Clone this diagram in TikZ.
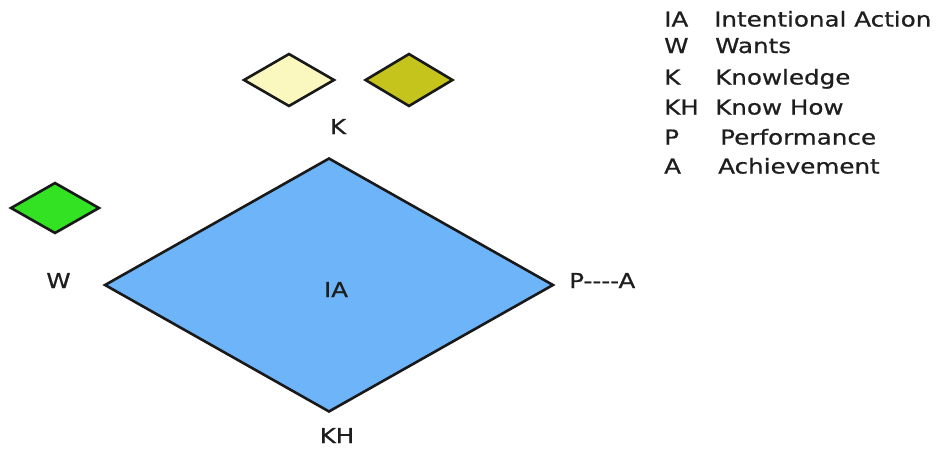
\documentclass[tikz,border=0pt]{standalone}
\usepackage{fontspec}
\setmainfont{DejaVu Sans}[FakeStretch=1.2,FakeBold=0.7]
\usetikzlibrary{shapes.geometric}
\definecolor{iablue}{RGB}{110,180,248}
\definecolor{kyellow}{RGB}{250,248,190}
\definecolor{kolive}{RGB}{196,196,28}
\definecolor{wgreen}{RGB}{52,226,36}
\definecolor{txt}{RGB}{30,30,30}
\tikzset{
  dia/.style={diamond, draw=black!90, line width=2.6pt, inner sep=0pt, line join=miter},
  lbl/.style={inner sep=0pt, text=txt, font=\fontsize{20.5}{24}\selectfont},
}
\begin{document}
\begin{tikzpicture}[x=1pt,y=-1pt]
\useasboundingbox (0,0) rectangle (946,450);
% main diamond
\node[dia, fill=iablue, minimum width=449pt, minimum height=254pt] (ia) at (329,285) {};
% small diamonds
\node[dia, fill=kyellow, minimum width=91pt, minimum height=53pt] (ky) at (289,80) {};
\node[dia, fill=kolive, minimum width=88pt, minimum height=53pt] (ko) at (409,80) {};
\node[dia, fill=wgreen, minimum width=89pt, minimum height=51pt] (wg) at (55,208) {};
% diagram labels
\node[lbl, anchor=base] (lK) at (338,134) {K};
\node[lbl, anchor=base] (lW) at (58.5,288) {W};
\node[lbl, anchor=base] (lIA) at (336,297) {IA};
\node[lbl, anchor=base west] (lPA) at (569,288) {P{-}{-}{-}{-}A};
\node[lbl, anchor=base] (lKH) at (337,443) {KH};
% legend
\node[lbl, anchor=base west] (a1) at (664,26.5) {IA};
\node[lbl, anchor=base west] (d1) at (714,26.5) {Intentional Action};
\node[lbl, anchor=base west] (a2) at (664,53) {W};
\node[lbl, anchor=base west] (d2) at (715,53) {Wants};
\node[lbl, anchor=base west] (a3) at (664,84.5) {K};
\node[lbl, anchor=base west] (d3) at (715,84.5) {Knowledge};
\node[lbl, anchor=base west] (a4) at (664,114.5) {KH};
\node[lbl, anchor=base west] (d4) at (715,114.5) {Know How};
\node[lbl, anchor=base west] (a5) at (664,144.5) {P};
\node[lbl, anchor=base west] (d5) at (720,144.5) {Performance};
\node[lbl, anchor=base west] (a6) at (664,173.5) {A};
\node[lbl, anchor=base west] (d6) at (718,173.5) {Achievement};
\end{tikzpicture}
\end{document}
